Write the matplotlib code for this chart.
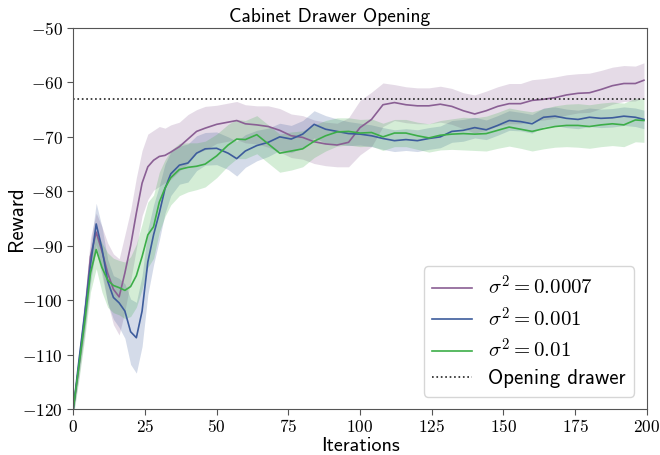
import numpy as np
import matplotlib.pyplot as plt
from matplotlib.ticker import FuncFormatter

plt.rcParams['mathtext.fontset'] = 'cm'

iters = [0, 2, 4, 6, 8, 10, 12, 14, 16, 18, 20, 22, 24, 26, 28, 30, 32, 34, 37, 40,
         43, 46, 50, 54, 57, 60, 64, 68, 72, 76, 80, 84, 88, 92, 96, 100, 104, 108,
         112, 116, 120, 124, 128, 132, 136, 140, 144, 148, 152, 156, 160, 164, 168,
         172, 176, 180, 184, 188, 192, 196, 199]

# sigma^2 = 0.0007
mean_a = [-120, -112, -103, -92, -87.5, -91, -95, -98, -99.4, -95, -90, -84, -78.5,
          -75.5, -74.3, -73.6, -73.4, -72.8, -71.8, -70.4, -69, -68.4, -67.7, -67.3,
          -67, -67.6, -67.8, -68.1, -68.8, -69.8, -70.1, -70.9, -71.3, -71.5, -71,
          -68.3, -66.8, -64.1, -63.7, -64.1, -64.3, -64.3, -64, -64.4, -65.2, -65.8,
          -65.2, -64.4, -63.9, -63.9, -63.3, -63.1, -62.8, -62.3, -62, -61.9, -61.3,
          -60.6, -60.2, -60.2, -59.6]
std_a = [1, 2, 3, 3.5, 3.5, 4.5, 5.5, 6.5, 7, 7, 6.5, 6.5, 6, 6, 5.5, 5.5, 5, 5, 4.5,
         4.5, 4, 4, 3.5, 3.5, 3.5, 3.5, 3.5, 3.8, 4, 4, 4, 4, 4, 4, 4.5, 5, 5, 4,
         3.3, 3.3, 3.3, 3.3, 3.3, 3.3, 3.3, 3.5, 3.6, 3.6, 3.7, 3.7, 3.8, 3.8, 3.8, 3.7,
         3.6, 3.6, 3.5, 3.4, 3.3, 3.2, 3.2]

# sigma^2 = 0.001
mean_b = [-120, -111, -102.5, -93.5, -86, -90.5, -96.5, -99.5, -100.5, -102, -105.8,
          -106.9, -102, -93, -88, -84, -79.5, -76.8, -75.2, -74.8, -73, -72.2, -72.1,
          -73, -74, -72.6, -71.6, -71, -70, -70.4, -69.5, -67.7, -68.6, -69, -69.4,
          -69.5, -69.8, -70.3, -70.7, -70.5, -70.7, -70.3, -70, -69, -68.8, -68.3,
          -68.7, -67.9, -67, -67.2, -67.6, -66.4, -66.2, -66.6, -66.8, -66.4, -66.6,
          -66.5, -66.2, -66.4, -66.8]
std_b = [1, 2, 3, 3.5, 3.8, 4, 4, 4, 4.5, 5, 6, 6.5, 6.5, 6, 5.5, 5, 4.5, 4, 3.5, 3.5,
         3.2, 3, 3, 3, 3.2, 3, 2.8, 2.6, 2.5, 2.5, 2.5, 2.5, 2.5, 2.3, 2.2, 2, 2, 2, 2,
         2, 2, 2, 2, 2, 2, 1.9, 1.8, 1.8, 1.8, 1.7, 1.7, 1.7, 1.7, 1.7, 1.7, 1.7, 1.7,
         1.7, 1.7, 1.7, 1.7]

# sigma^2 = 0.01
mean_c = [-120, -112, -104, -95, -90.7, -94, -96.3, -97.3, -97.7, -98.2, -97.5, -95.5,
          -92, -88, -86.5, -82, -79.4, -77.5, -76, -75.6, -75.4, -75, -73.5, -71.5,
          -70.4, -70.5, -69.6, -71.3, -73, -72.6, -72.2, -70.8, -69.8, -69.1, -69,
          -69.3, -69.2, -70, -69.3, -69.3, -69.8, -70.2, -69.7, -69.5, -69.4, -69.5,
          -69.4, -68.8, -68.2, -68.6, -69, -68.5, -68.1, -67.9, -67.9, -68.1, -67.8,
          -67.6, -67.8, -66.9, -67]
std_c = [1.5, 2.5, 3, 3.5, 3.5, 4.5, 5, 5, 5, 5.2, 5.5, 5.8, 6, 6, 5.8, 5.5, 5.2, 5,
         4.8, 4.5, 4.3, 4.2, 4, 3.8, 3.6, 3.5, 3.5, 3.5, 3.5, 3.5, 3.3, 3, 2.8, 2.6,
         2.5, 2.5, 2.5, 2.5, 2.5, 2.5, 2.5, 2.6, 2.7, 2.8, 3, 3, 3.2, 3.3, 3.5, 3.5,
         3.6, 3.7, 3.8, 3.9, 4, 4, 4, 4, 4, 4, 4]

labels = [r'$\sigma^2 = 0.0007$', r'$\sigma^2 = 0.001$', r'$\sigma^2 = 0.01$']
colors = ['#8a5f94', '#3d5c9c', '#3cae48']
opening = -63

fig = plt.figure(figsize=(6.6, 4.55), dpi=100)
ax = fig.add_axes([0.111, 0.101, 0.869, 0.8375])

x = np.array(iters)
for mean, std, lab, col in zip([mean_a, mean_b, mean_c], [std_a, std_b, std_c],
                               labels, colors):
    m = np.array(mean)
    s = np.array(std)
    ax.fill_between(x, m - s, m + s, color=col, alpha=0.22, linewidth=0)
    ax.plot(x, m, color=col, linewidth=1.2, label=lab)

ax.axhline(opening, color='#222222', linestyle=':', linewidth=1.2, label='Opening drawer')

ax.set_xlim(0, 200)
ax.set_ylim(-120, -50)
ax.set_xticks(range(0, 201, 25))
ax.set_yticks(range(-120, -49, 10))
fmt = FuncFormatter(lambda v, p: r'$%d$' % v)
ax.xaxis.set_major_formatter(fmt)
ax.yaxis.set_major_formatter(fmt)
ax.tick_params(labelsize=12.5, color='#555555', length=4)
ax.tick_params(axis='x', pad=2.5)
for sp in ax.spines.values():
    sp.set_color('#555555')

fig.text(0.5, 0.952, 'Cabinet Drawer Opening', fontname='cmss10', fontsize=14,
         ha='center', va='baseline')
ax.set_xlabel('Iterations', fontname='cmss10', fontsize=14.5)
ax.set_ylabel('Reward', fontname='cmss10', fontsize=15)
ax.xaxis.set_label_coords(0.5, -0.073)
ax.yaxis.set_label_coords(-0.083, 0.5)

leg = ax.legend(loc='lower right', fontsize=15, borderaxespad=0.6,
                handlelength=1.9, labelspacing=0.35)
for t in leg.get_texts():
    t.set_fontname('cmss10')

fig.savefig('out.png', dpi=100)
